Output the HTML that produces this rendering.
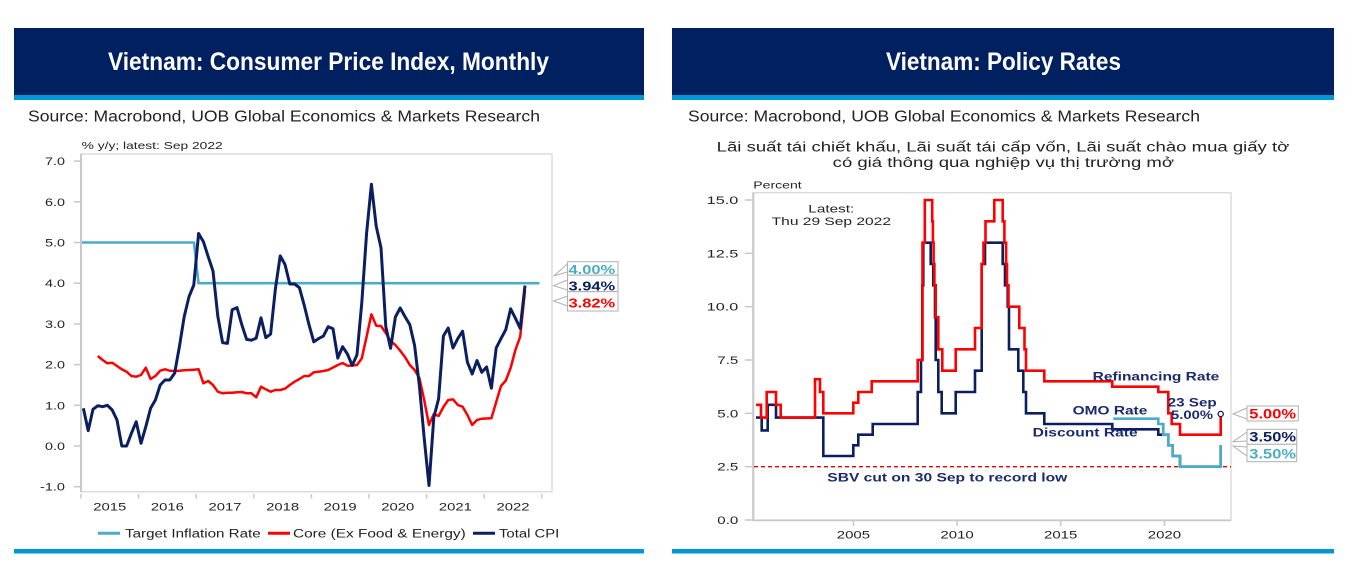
<!DOCTYPE html>
<html><head><meta charset="utf-8"><style>
html,body{margin:0;padding:0;background:#fff;}
svg{display:block;}
text{font-family:"Liberation Sans",Arial,sans-serif;}
</style></head><body>
<svg width="1368" height="572" viewBox="0 0 1368 572" xmlns="http://www.w3.org/2000/svg">
<rect x="0" y="0" width="1368" height="572" fill="#fff"/>

<!-- ============ LEFT PANEL ============ -->
<rect x="14" y="28" width="630" height="67" fill="#002060"/>
<rect x="14" y="95" width="630" height="5" fill="#0097d7"/>
<text x="108" y="70" font-size="25" font-weight="bold" fill="#fff" textLength="441" lengthAdjust="spacingAndGlyphs">Vietnam: Consumer Price Index, Monthly</text>
<text x="28" y="121.7" font-size="15.5" fill="#222" textLength="512" lengthAdjust="spacingAndGlyphs">Source: Macrobond, UOB Global Economics &amp; Markets Research</text>
<text x="81.7" y="148.8" font-size="10.5" fill="#222" textLength="141" lengthAdjust="spacingAndGlyphs">% y/y; latest: Sep 2022</text>

<!-- frame -->
<rect x="81" y="154" width="471" height="337.7" fill="none" stroke="#dcdcdc" stroke-width="1.5"/>
<line x1="81" y1="154" x2="81" y2="492" stroke="#c8c8c8" stroke-width="2"/>
<g stroke="#c8c8c8" stroke-width="1.5">
<line x1="74" y1="161.1" x2="81" y2="161.1"/><line x1="74" y1="201.8" x2="81" y2="201.8"/>
<line x1="74" y1="242.5" x2="81" y2="242.5"/><line x1="74" y1="283.2" x2="81" y2="283.2"/>
<line x1="74" y1="323.9" x2="81" y2="323.9"/><line x1="74" y1="364.6" x2="81" y2="364.6"/>
<line x1="74" y1="405.3" x2="81" y2="405.3"/><line x1="74" y1="446" x2="81" y2="446"/>
<line x1="74" y1="486.7" x2="81" y2="486.7"/>
<line x1="81" y1="494" x2="81" y2="498.5"/><line x1="138.6" y1="494" x2="138.6" y2="498.5"/>
<line x1="196.2" y1="494" x2="196.2" y2="498.5"/><line x1="253.8" y1="494" x2="253.8" y2="498.5"/>
<line x1="311.4" y1="494" x2="311.4" y2="498.5"/><line x1="369" y1="494" x2="369" y2="498.5"/>
<line x1="426.6" y1="494" x2="426.6" y2="498.5"/><line x1="484.2" y1="494" x2="484.2" y2="498.5"/>
<line x1="541.8" y1="494" x2="541.8" y2="498.5"/>
</g>
<g font-size="11" fill="#222" text-anchor="end">
<text x="65" y="165.1" textLength="20" lengthAdjust="spacingAndGlyphs">7.0</text>
<text x="65" y="205.8" textLength="20" lengthAdjust="spacingAndGlyphs">6.0</text>
<text x="65" y="246.5" textLength="20" lengthAdjust="spacingAndGlyphs">5.0</text>
<text x="65" y="287.2" textLength="20" lengthAdjust="spacingAndGlyphs">4.0</text>
<text x="65" y="327.9" textLength="20" lengthAdjust="spacingAndGlyphs">3.0</text>
<text x="65" y="368.6" textLength="20" lengthAdjust="spacingAndGlyphs">2.0</text>
<text x="65" y="409.3" textLength="20" lengthAdjust="spacingAndGlyphs">1.0</text>
<text x="65" y="450" textLength="20" lengthAdjust="spacingAndGlyphs">0.0</text>
<text x="65" y="490.7" textLength="25" lengthAdjust="spacingAndGlyphs">-1.0</text>
</g>
<g font-size="11" fill="#222" text-anchor="middle">
<text x="109.8" y="510.7" textLength="33" lengthAdjust="spacingAndGlyphs">2015</text>
<text x="167.4" y="510.7" textLength="33" lengthAdjust="spacingAndGlyphs">2016</text>
<text x="225" y="510.7" textLength="33" lengthAdjust="spacingAndGlyphs">2017</text>
<text x="282.6" y="510.7" textLength="33" lengthAdjust="spacingAndGlyphs">2018</text>
<text x="340.2" y="510.7" textLength="33" lengthAdjust="spacingAndGlyphs">2019</text>
<text x="397.8" y="510.7" textLength="33" lengthAdjust="spacingAndGlyphs">2020</text>
<text x="455.4" y="510.7" textLength="33" lengthAdjust="spacingAndGlyphs">2021</text>
<text x="513" y="510.7" textLength="33" lengthAdjust="spacingAndGlyphs">2022</text>
</g>

<!-- series -->
<polyline fill="none" stroke="#4bacc6" stroke-width="2.6" stroke-linejoin="round" points="82,242.5 194,242.5 198.5,283.2 539.5,283.2"/>
<polyline fill="none" stroke="#ff0000" stroke-width="2.5" stroke-linejoin="round" points="97.8,356 102.6,360 107.4,363.3 112.2,362.7 117,366 121.8,369.3 126.6,371.7 131.4,376 136.2,376.7 141,375 145.8,367.7 150.6,379 155.4,376 160.2,370.7 165,369.3 169.8,370.7 174.6,371 179.4,370.7 184.2,370.3 189,370 193.8,369.7 198.6,369.3 203.4,383.3 208.2,381 213,385 217.8,391.7 222.6,393.3 227.4,392.7 232.2,392.7 237,392.3 241.8,392 246.6,393.3 251.4,393.3 256.2,397.3 261,386.7 265.8,389.3 270.6,391.7 275.4,390 280.2,390 285,388.7 289.8,385 294.6,381.7 299.4,379 304.2,376 309,376 313.8,372.3 318.6,371.7 323.4,371 328.2,370 333,367.5 337.8,365 342.6,363 347.4,365.7 352.2,365.5 357,365 361.8,358.3 366.6,336.7 371.4,314.3 376.2,325.7 381,326 385.8,333 390.6,341 395.4,345 400.2,350.7 405,357 409.8,365 414.6,370 419.4,378 424.2,400 429,425 433.8,414 438.6,416 443.4,407 448.2,400 453,399.3 457.8,405 462.6,406.7 467.4,415 472.2,425 477,420 481.8,418.7 486.6,418.5 491.4,418.3 496.2,402 501,386 505.8,380.5 510.6,368 515.4,350 520.2,336.7 525,290.5"/>
<polyline fill="none" stroke="#0b1f60" stroke-width="3" stroke-linejoin="round" points="83.4,408.3 88.2,430.7 93,409.3 97.8,405.7 102.6,406.7 107.4,405.3 112.2,410 117,420 121.8,446 126.6,446 131.4,433.3 136.2,421.7 141,443.3 145.8,426.7 150.6,408.3 155.4,400 160.2,385 165,380 169.8,380 174.6,373.3 179.4,346.7 184.2,316.7 189,296.7 193.8,285 198.6,233.5 203.4,241.7 208.2,256.7 213,271 217.8,316.2 222.6,342.6 227.4,343.4 232.2,309.7 237,307.6 241.8,324.7 246.6,339.4 251.4,340.2 256.2,338.1 261,317.8 265.8,337.7 270.6,334.1 275.4,288.9 280.2,255.9 285,264.5 289.8,284 294.6,284 299.4,287.7 304.2,305.2 309,324.7 313.8,341.8 318.6,338.6 323.4,336.1 328.2,326.7 333,328.8 337.8,358.1 342.6,346.7 347.4,354 352.2,365.4 357,354.8 361.8,302.7 366.6,233.1 371.4,184.3 376.2,226.2 381,247.8 385.8,326.7 390.6,348.3 395.4,317 400.2,308 405,316.6 409.8,324.7 414.6,345.5 419.4,385.8 424.2,438.3 429,485.5 433.8,417.5 438.6,398.8 443.4,336 448.2,328 453,348 457.8,338.6 462.6,331.2 467.4,362.2 472.2,374 477,360.5 481.8,372.3 486.6,367 491.4,388.2 496.2,348 501,338.6 505.8,329.6 510.6,308.8 515.4,318.2 520.2,328.4 525,285.6"/>

<!-- left callouts -->
<g fill="#fff" stroke="#b0b0b0" stroke-width="1">
<polygon points="567.5,264 553.5,276 567.5,272"/>
<polygon points="567.5,280 553.5,285.7 567.5,290"/>
<polygon points="567.5,296 553.5,301 567.5,306"/>
<rect x="567.5" y="261.7" width="50.5" height="13.5"/>
<rect x="567.5" y="275.2" width="50.5" height="16.5"/>
<rect x="567.5" y="291.7" width="50.5" height="19.3"/>
</g>
<g font-size="13" font-weight="bold">
<text x="568.5" y="274" fill="#4bacc6" textLength="46.7" lengthAdjust="spacingAndGlyphs">4.00%</text>
<text x="568.5" y="290.7" fill="#0b1f60" textLength="46.7" lengthAdjust="spacingAndGlyphs">3.94%</text>
<text x="568.5" y="307.7" fill="#ff0000" textLength="46.7" lengthAdjust="spacingAndGlyphs">3.82%</text>
</g>

<!-- legend -->
<line x1="98" y1="533.3" x2="120" y2="533.3" stroke="#4bacc6" stroke-width="3"/>
<text x="125" y="537.5" font-size="11.5" fill="#222" textLength="135.7" lengthAdjust="spacingAndGlyphs">Target Inflation Rate</text>
<line x1="268" y1="533.3" x2="290" y2="533.3" stroke="#ff0000" stroke-width="3"/>
<text x="293" y="537.5" font-size="11.5" fill="#222" textLength="172.7" lengthAdjust="spacingAndGlyphs">Core (Ex Food &amp; Energy)</text>
<line x1="473" y1="533.3" x2="495" y2="533.3" stroke="#0b1f60" stroke-width="3"/>
<text x="499" y="537.5" font-size="11.5" fill="#222" textLength="60.3" lengthAdjust="spacingAndGlyphs">Total CPI</text>

<rect x="14" y="549" width="630" height="4.5" fill="#0097d7"/>

<!-- ============ RIGHT PANEL ============ -->
<rect x="672" y="28" width="662" height="67" fill="#002060"/>
<rect x="672" y="95" width="662" height="5" fill="#0097d7"/>
<text x="886" y="70" font-size="25" font-weight="bold" fill="#fff" textLength="235" lengthAdjust="spacingAndGlyphs">Vietnam: Policy Rates</text>
<text x="688" y="121.7" font-size="15.5" fill="#222" textLength="512" lengthAdjust="spacingAndGlyphs">Source: Macrobond, UOB Global Economics &amp; Markets Research</text>

<text x="716.7" y="151.7" font-size="13.5" fill="#222" textLength="572.6" lengthAdjust="spacingAndGlyphs">Lãi suất tái chiết khấu, Lãi suất tái cấp vốn, Lãi suất chào mua giấy tờ</text>
<text x="832.7" y="166.8" font-size="13.5" fill="#222" textLength="341.3" lengthAdjust="spacingAndGlyphs">có giá thông qua nghiệp vụ thị trường mở</text>
<text x="753.3" y="188.3" font-size="10.5" fill="#222" textLength="48.4" lengthAdjust="spacingAndGlyphs">Percent</text>
<text x="808.3" y="212.7" font-size="11" fill="#222" textLength="46" lengthAdjust="spacingAndGlyphs">Latest:</text>
<text x="771.7" y="225" font-size="11" fill="#222" textLength="119.3" lengthAdjust="spacingAndGlyphs">Thu 29 Sep 2022</text>

<rect x="753" y="192.7" width="478" height="327.3" fill="none" stroke="#dcdcdc" stroke-width="1.5"/>
<line x1="753.3" y1="192.7" x2="753.3" y2="521" stroke="#c8c8c8" stroke-width="2"/>
<line x1="753" y1="520.5" x2="1231" y2="520.5" stroke="#c8c8c8" stroke-width="1.5"/>
<g stroke="#c8c8c8" stroke-width="1.5">
<line x1="745" y1="200" x2="753" y2="200"/><line x1="745" y1="253.3" x2="753" y2="253.3"/>
<line x1="745" y1="306.7" x2="753" y2="306.7"/><line x1="745" y1="360" x2="753" y2="360"/>
<line x1="745" y1="413.3" x2="753" y2="413.3"/><line x1="745" y1="466.7" x2="753" y2="466.7"/>
<line x1="745" y1="520" x2="753" y2="520"/>
<line x1="853.4" y1="520" x2="853.4" y2="526"/><line x1="957.1" y1="520" x2="957.1" y2="526"/>
<line x1="1060.7" y1="520" x2="1060.7" y2="526"/><line x1="1164.4" y1="520" x2="1164.4" y2="526"/>
</g>
<g font-size="11" fill="#222" text-anchor="end">
<text x="738.3" y="204" textLength="31.6" lengthAdjust="spacingAndGlyphs">15.0</text>
<text x="738.3" y="257.3" textLength="31.6" lengthAdjust="spacingAndGlyphs">12.5</text>
<text x="738.3" y="310.7" textLength="31.6" lengthAdjust="spacingAndGlyphs">10.0</text>
<text x="738.3" y="364" textLength="21" lengthAdjust="spacingAndGlyphs">7.5</text>
<text x="738.3" y="417.3" textLength="21" lengthAdjust="spacingAndGlyphs">5.0</text>
<text x="738.3" y="470.7" textLength="21" lengthAdjust="spacingAndGlyphs">2.5</text>
<text x="738.3" y="524" textLength="21" lengthAdjust="spacingAndGlyphs">0.0</text>
</g>
<g font-size="11" fill="#222" text-anchor="middle">
<text x="853.4" y="538.3" textLength="33.3" lengthAdjust="spacingAndGlyphs">2005</text>
<text x="957.1" y="538.3" textLength="33.3" lengthAdjust="spacingAndGlyphs">2010</text>
<text x="1060.7" y="538.3" textLength="33.3" lengthAdjust="spacingAndGlyphs">2015</text>
<text x="1164.4" y="538.3" textLength="33.3" lengthAdjust="spacingAndGlyphs">2020</text>
</g>

<line x1="754" y1="466.7" x2="1231" y2="466.7" stroke="#e00000" stroke-width="1.3" stroke-dasharray="4,3"/>

<!-- discount (navy) -->
<path fill="none" stroke="#0b1f60" stroke-width="2.6" stroke-linejoin="miter" d="M756,417.6 H761.7 V430.4 H767.7 V404.8 H776 V417.6 H823.3 V456 H853.3 V445.3 H858.3 V434.7 H872.7 V424 H917.7 V392 H921 V360 H922.3 V285.3 H923.3 V242.7 H930.7 V264 H933.3 V285.3 H935 V317.3 H935.7 V360 H938.3 V392 H941.7 V413.3 H955.7 V392 H975 V370.7 H981.7 V264 H985 V242.7 H1002.7 V264 H1005 V285.3 H1007.7 V306.7 H1009 V349.3 H1018.3 V370.7 H1023.3 V392 H1026 V413.3 H1044.3 V424 H1112.3 V429.3 H1158.3 V434.7 H1168.3 V445.3 H1172.7 V456 H1180 V466.7 H1220.7 V445.3"/>
<!-- OMO (light blue) -->
<path fill="none" stroke="#4bacc6" stroke-width="2.6" d="M1113.3,418.7 H1158.3 V424 H1163.3 V434.7 H1168.3 V445.3 H1172.7 V456 H1180 V466.7 H1220.7 V445.3"/>
<!-- refinancing (red) -->
<path fill="none" stroke="#ff0000" stroke-width="2.6" d="M756,404.8 H761 V417.6 H766.7 V392 H776 V404.8 H780.7 V417.6 H815 V379.2 H820 V392 H823.3 V413.3 H853.3 V402.7 H858.3 V392 H871.7 V381.3 H917.7 V360 H922.5 V242.7 H924.8 V200 H932.2 V221.3 H932.9 V242.7 H933.6 V264 H934.4 V285.3 H935.7 V317.3 H938.3 V349.3 H942.3 V370.7 H955.7 V349.3 H975 V328 H981.7 V264 H983.5 V242.7 H985.5 V221.3 H994.3 V200 H1002.7 V221.3 H1004.4 V242.7 H1006.1 V264 H1007 V285.3 H1008.5 V306.7 H1019.3 V328 H1024.5 V349.3 H1026 V370.7 H1044.3 V381.3 H1112.3 V386.7 H1158.3 V392 H1168.3 V413.3 H1171.7 V424 H1180 V434.7 H1220.7 V413.3"/>
<circle cx="1220.7" cy="414" r="2.6" fill="#fff" stroke="#0b1f60" stroke-width="1.3"/>

<!-- annotations -->
<g font-size="11.5" font-weight="bold" fill="#1a2a6c">
<text x="1092.7" y="380.7" textLength="126.6" lengthAdjust="spacingAndGlyphs">Refinancing Rate</text>
<text x="1167.7" y="406.7" textLength="49" lengthAdjust="spacingAndGlyphs">23 Sep</text>
<text x="1171" y="419" textLength="42" lengthAdjust="spacingAndGlyphs">5.00%</text>
<text x="1072.7" y="414.3" textLength="74.6" lengthAdjust="spacingAndGlyphs">OMO Rate</text>
<text x="1032.7" y="436.7" textLength="105" lengthAdjust="spacingAndGlyphs">Discount Rate</text>
<text x="827.3" y="481.7" textLength="240" lengthAdjust="spacingAndGlyphs">SBV cut on 30 Sep to record low</text>
</g>

<!-- right callouts -->
<g fill="#fff" stroke="#b0b0b0" stroke-width="1">
<polygon points="1247,408 1233,414 1247,419"/>
<polygon points="1247,432 1233,441.7 1247,441"/>
<polygon points="1247,447 1233,446 1247,456"/>
<rect x="1247" y="406" width="51.3" height="15"/>
<rect x="1247" y="429.3" width="49.7" height="15"/>
<rect x="1247" y="444.3" width="49.7" height="17.4"/>
</g>
<g font-size="13.5" font-weight="bold">
<text x="1249.3" y="418.3" fill="#ff0000" textLength="46.7" lengthAdjust="spacingAndGlyphs">5.00%</text>
<text x="1249.3" y="441.7" fill="#0b1f60" textLength="46.7" lengthAdjust="spacingAndGlyphs">3.50%</text>
<text x="1249.3" y="458.3" fill="#4bacc6" textLength="46.7" lengthAdjust="spacingAndGlyphs">3.50%</text>
</g>

<rect x="672" y="549" width="662" height="4.5" fill="#0097d7"/>
</svg>
</body></html>
